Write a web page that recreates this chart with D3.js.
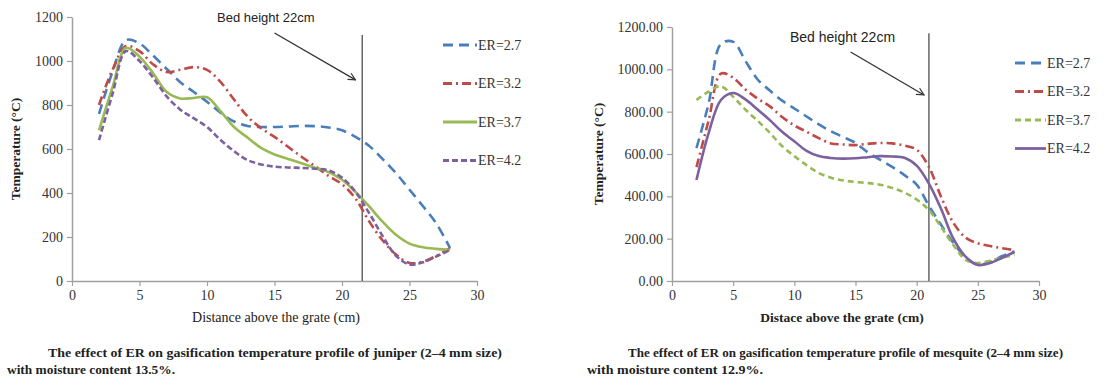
<!DOCTYPE html>
<html><head><meta charset="utf-8">
<script src="https://cdn.jsdelivr.net/npm/d3@7"></script>
<style>body{margin:0;background:#fff} svg{display:block}</style>
</head><body><svg id="c" width="1104" height="380"></svg>
<script>
// ---------- DATA ----------
const seriesNames = ["ER=2.7", "ER=3.2", "ER=3.7", "ER=4.2"];
const xTicks = [0, 5, 10, 15, 20, 25, 30];
const yTicks = [0, 200, 400, 600, 800, 1000, 1200];

// Juniper (left chart)
const distJuniper = [2,3,4,5,6,7,8,9,10,11,12,13,14,15,16,17,18,19,20,21,22,23,24,25,26,27,28];
const juniperER27 = [760,950,1095,1080,1025,965,905,860,815,765,725,705,700,700,702,705,704,698,685,655,615,555,490,415,340,260,150];
const juniperER32 = [800,960,1068,1045,985,950,960,972,960,905,825,748,695,655,610,565,522,478,440,375,272,185,120,82,88,115,150];
const juniperER37 = [685,880,1060,1020,945,860,830,832,835,772,700,652,605,575,555,535,515,495,460,405,340,270,210,170,153,146,141];
const juniperER42 = [640,850,1045,1000,925,840,780,740,700,641,590,550,530,520,516,514,510,503,470,405,310,205,115,75,85,112,141];
const juniperBed = 21.5;

// Mesquite (right chart)
const distMesquite = [2,3,4,5,6,7,8,9,10,11,12,13,14,15,16,17,18,19,20,21,22,23,24,25,26,27,28];
const mesquiteER27 = [628,840,1120,1130,1040,952,900,852,815,777,740,707,680,652,608,573,539,500,455,355,265,180,113,76,90,118,140];
const mesquiteER32 = [538,760,980,960,905,862,825,775,735,705,675,650,645,642,648,652,650,640,620,539,397,275,205,178,165,155,146];
const mesquiteER37 = [855,895,920,870,810,757,700,637,590,547,510,488,475,468,463,455,440,418,385,335,255,170,100,85,95,110,123];
const mesquiteER42 = [477,700,855,888,858,810,760,705,660,615,590,581,578,580,585,590,588,582,545,460,340,200,115,76,85,110,137];
const mesquiteBed = 21.0;

const colors = ["#4a7ebb", "#be4b48", "#98b954", "#7d60a0"];

// ---------- DRAW ----------
const svg = d3.select("#c");
const defs = svg.append("defs");
defs.append("marker").attr("id","arr").attr("viewBox","0 0 10 10").attr("refX",9).attr("refY",5)
  .attr("markerWidth",9).attr("markerHeight",9).attr("orient","auto").attr("markerUnits","userSpaceOnUse")
  .append("path").attr("d","M1,1 L9,5 L1,9").attr("fill","none").attr("stroke","#333").attr("stroke-width",1.3);

const serif = "'Liberation Serif', 'Times New Roman', serif";
const sans = "'Liberation Sans', Arial, sans-serif";

function drawChart(cfg) {
  const g = svg.append("g");
  const x = d3.scaleLinear().domain([0, 30]).range([cfg.left, cfg.right]);
  const y = d3.scaleLinear().domain([0, 1200]).range([cfg.bottom, cfg.top]);

  // axes
  const xa = g.append("g").attr("transform", `translate(0,${cfg.bottom})`)
    .call(d3.axisBottom(x).tickValues(xTicks).tickSize(5).tickSizeOuter(0).tickPadding(4));
  const ya = g.append("g").attr("transform", `translate(${cfg.left},0)`)
    .call(d3.axisLeft(y).tickValues(yTicks).tickSize(5).tickSizeOuter(0).tickPadding(4)
      .tickFormat(cfg.yFormat));
  [xa, ya].forEach(a => {
    a.select(".domain").attr("stroke", "#a0a0a0").attr("stroke-width", 1.5);
    a.selectAll(".tick line").attr("stroke", "#a0a0a0").attr("stroke-width", 1.2);
    a.selectAll("text").attr("font-family", serif).attr("font-size", 14).attr("fill", "#333");
  });

  // bed height line
  g.append("line").attr("x1", x(cfg.bed)).attr("x2", x(cfg.bed))
    .attr("y1", y(cfg.bedTop)).attr("y2", y(0))
    .attr("stroke", "#666").attr("stroke-width", 1.5);

  // series
  const line = d3.line().x((d, i) => x(cfg.dist[i])).y(d => y(d)).curve(d3.curveCatmullRom.alpha(0.5));
  cfg.series.forEach((s, i) => {
    g.append("path").datum(s).attr("d", line).attr("fill", "none")
      .attr("stroke", colors[i]).attr("stroke-width", 2.6)
      .attr("stroke-dasharray", cfg.dashes[i]);
  });

  // annotation
  g.append("text").attr("x", cfg.annX).attr("y", cfg.annY).attr("font-family", sans)
    .attr("font-size", cfg.annSize).attr("fill", "#222").text("Bed height 22cm");
  g.append("line").attr("x1", x(cfg.arrow[0])).attr("y1", y(cfg.arrow[1]))
    .attr("x2", x(cfg.arrow[2])).attr("y2", y(cfg.arrow[3]))
    .attr("stroke", "#333").attr("stroke-width", 1.3).attr("marker-end", "url(#arr)");

  // legend
  seriesNames.forEach((n, i) => {
    const ly = cfg.legY + i * cfg.legStep;
    g.append("line").attr("x1", cfg.legX).attr("x2", cfg.legX + cfg.legW).attr("y1", ly).attr("y2", ly)
      .attr("stroke", colors[i]).attr("stroke-width", 2.8).attr("stroke-dasharray", cfg.dashes[i]);
    g.append("text").attr("x", cfg.legX + cfg.legW + 1).attr("y", ly).attr("dy", "0.35em")
      .attr("font-family", serif).attr("font-size", 14).attr("fill", "#333").text(n);
  });

  // axis titles
  g.append("text").attr("transform", `translate(${cfg.yTitleX},${(cfg.top + cfg.bottom) / 2}) rotate(-90)`)
    .attr("text-anchor", "middle").attr("font-family", serif).attr("font-weight", "bold")
    .attr("font-size", 13.5).attr("fill", "#222").text("Temperature (°C)");
  g.append("text").attr("x", cfg.xTitleX).attr("y", 322).attr("text-anchor", "middle")
    .attr("font-family", serif).attr("font-weight", cfg.xTitleWeight)
    .attr("font-size", cfg.xTitleSize).attr("fill", "#222").text(cfg.xTitle);

  // caption
  g.append("text").attr("x", cfg.capX1).attr("y", 357).attr("font-family", serif).attr("font-weight", "bold")
    .attr("font-size", 13).attr("fill", "#222").attr("textLength", cfg.capW1).attr("lengthAdjust", "spacingAndGlyphs")
    .text(cfg.cap1);
  g.append("text").attr("x", cfg.capX2).attr("y", 374).attr("font-family", serif).attr("font-weight", "bold")
    .attr("font-size", 13).attr("fill", "#222").attr("textLength", cfg.capW2).attr("lengthAdjust", "spacingAndGlyphs")
    .text(cfg.cap2);
}

drawChart({
  left: 72, right: 477, top: 17, bottom: 281,
  yFormat: d3.format("d"),
  dist: distJuniper,
  series: [juniperER27, juniperER32, juniperER37, juniperER42],
  dashes: ["10,6", "9,4,2,4", null, "6,3"],
  bed: juniperBed, bedTop: 1118,
  annX: 217, annY: 22, annSize: 13,
  arrow: [15.0, 1127, 21.0, 914],
  legX: 443, legY: 45, legStep: 38.5, legW: 34,
  yTitleX: 20, xTitleX: 276, xTitleWeight: "normal", xTitleSize: 14,
  xTitle: "Distance above the grate (cm)",
  cap1: "The effect of ER on gasification temperature profile of juniper (2–4 mm size)",
  cap2: "with moisture content 13.5%.",
  capX1: 48, capW1: 454, capX2: 7, capW2: 168
});

drawChart({
  left: 672, right: 1039, top: 27, bottom: 281,
  yFormat: d3.format(".2f"),
  dist: distMesquite,
  series: [mesquiteER27, mesquiteER32, mesquiteER37, mesquiteER42],
  dashes: ["10,6", "9,4,2,4", "6,4", null],
  bed: mesquiteBed, bedTop: 1170,
  annX: 790, annY: 42, annSize: 14,
  arrow: [14.6, 1082, 20.6, 879],
  legX: 1015, legY: 63, legStep: 28.5, legW: 31,
  yTitleX: 603, xTitleX: 842, xTitleWeight: "bold", xTitleSize: 13.5,
  xTitle: "Distace above the grate (cm)",
  cap1: "The effect of ER on gasification temperature profile of mesquite (2–4 mm size)",
  cap2: "with moisture content 12.9%.",
  capX1: 628, capW1: 435, capX2: 587, capW2: 176
});
</script></body></html>
